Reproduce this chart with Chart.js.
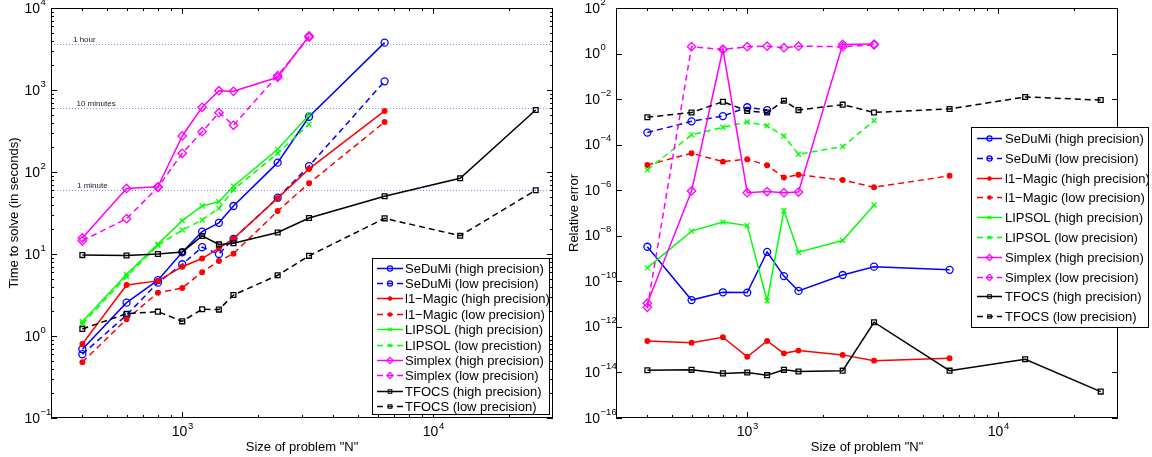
<!DOCTYPE html>
<html lang="en">
<head>
<meta charset="UTF-8">
<title>Solver time and relative error</title>
<script src="https://cdn.jsdelivr.net/npm/chart.js"></script>
<style>
  body { margin: 0; background: #fff; }
  .wrap { position: relative; width: 1152px; height: 457px; }
  #timeChart { position: absolute; left: 0; top: 0; }
  #errorChart { position: absolute; left: 560px; top: 0; }
</style>
</head>
<body>
<div class="wrap">
  <canvas id="timeChart" width="560" height="457"></canvas>
  <canvas id="errorChart" width="592" height="457"></canvas>
</div>
<script>
// ---------------- data ----------------
const sizesN = [400, 600, 800, 1000, 1200, 1400, 1600, 2400, 3200, 6400, 12800, 25600];

// time to solve (seconds)
const sedumiHighTime  = [0.69, 2.55, 4.8, 10.5, 18.7, 24, 38.5, 130, 472, 3780, null, null];
const sedumiLowTime   = [0.60, 1.8, 4.47, 7.5, 12.1, 10, 15.3, 48.6, 118, 1276, null, null];
const magicHighTime   = [0.80, 4.19, 4.7, 7.0, 8.8, 11.8, 15.4, 48, 109, 555, null, null];
const magicLowTime    = [0.48, 1.6, 3.37, 3.85, 6.0, 8.2, 10.1, 33.4, 72.8, 407, null, null];
const lipsolHighTime  = [1.49, 5.65, 13.2, 25.5, 38.5, 43.5, 67, 189, 495, null, null, null];
const lipsolLowTime   = [1.4, 5.3, 12.8, 19.6, 26, 36, 61, 169, 382, null, null, null];
const simplexHighTime = [15.7, 63, 66, 275, 615, 980, 965, 1430, 4560, null, null, null];
const simplexLowTime  = [14.5, 27, 65, 169, 310, 529, 371, 1500, 4400, null, null, null];
const tfocsHighTime   = [9.7, 9.6, 10, 10.6, 16.6, 13.1, 13.5, 18.3, 27.5, 50.6, 83.8, 570];
const tfocsLowTime    = [1.22, 1.87, 1.98, 1.51, 2.12, 2.1, 3.16, 5.5, 9.5, 27.2, 16.7, 60];

// relative error
const sedumiHighErr  = [3.3e-9, 1.5e-11, 3.3e-11, 3.2e-11, 1.95e-9, 1.7e-10, 3.8e-11, 1.9e-10, 4.4e-10, 3.2e-10, null, null];
const sedumiLowErr   = [3.4e-4, 1.06e-3, 1.8e-3, 4.4e-3, 3.3e-3, null, null, null, null, null, null, null];
const magicHighErr   = [2.4e-13, 2.0e-13, 3.5e-13, 4.9e-14, 2.4e-13, 6.9e-14, 9.1e-14, 5.9e-14, 3.3e-14, 4.2e-14, null, null];
const magicLowErr    = [1.28e-5, 4.2e-5, 1.8e-5, 2.3e-5, 1.24e-5, 3.6e-6, 4.8e-6, 2.8e-6, 1.35e-6, 4.3e-6, null, null];
const lipsolHighErr  = [3.9e-10, 1.6e-8, 4.0e-8, 2.8e-8, 1.4e-11, 1.26e-7, 1.9e-9, 6.2e-9, 2.25e-7, null, null, null];
const lipsolLowErr   = [7.8e-6, 2.7e-4, 5.8e-4, 9.9e-4, 6.8e-4, 2.4e-4, 3.8e-5, 8.2e-5, 1.13e-3, null, null, null];
const simplexHighErr = [1.1e-11, 9.3e-7, 1.54, 7.8e-7, 8.7e-7, 7.8e-7, 8.3e-7, 2.5, 2.6, null, null, null];
const simplexLowErr  = [7.2e-12, 2.0, 1.5, 2.0, 2.1, 1.8, 2.1, 2.0, 2.4, null, null, null];
const tfocsHighErr   = [1.24e-14, 1.3e-14, 9.1e-15, 9.9e-15, 7.6e-15, 1.3e-14, 1.1e-14, 1.2e-14, 1.6e-12, 1.2e-14, 3.8e-14, 1.44e-15];
const tfocsLowErr    = [1.6e-3, 2.6e-3, 7.7e-3, 3.0e-3, 2.6e-3, 8.5e-3, 3.3e-3, 5.7e-3, 2.6e-3, 3.7e-3, 1.24e-2, 9.1e-3];

const timeLabels = ['SeDuMi (high precision)', 'SeDuMi (low precision)', 'l1\u2212Magic (high precision)', 'l1\u2212Magic (low precision)',
  'LIPSOL (high precision)', 'LIPSOL (low precistion)', 'Simplex (high precision)', 'Simplex (low precision)',
  'TFOCS (high precision)', 'TFOCS (low precision)'];
const errorLabels = ['SeDuMi (high precision)', 'SeDuMi (low precision)', 'l1\u2212Magic (high precision)', 'l1\u2212Magic (low precision)',
  'LIPSOL (high precision)', 'LIPSOL (low precision)', 'Simplex (high precision)', 'Simplex (low precision)',
  'TFOCS (high precision)', 'TFOCS (low precision)'];

const refLineSeconds = [3600, 600, 60];
const refLineLabels = ['1 hour', '10 minutes', '1 minute'];

// ---------------- styles ----------------
const FONT = '"Liberation Sans", Arial, Helvetica, sans-serif';
const solverStyles = [
  { color: '#0000ff', dashed: false, marker: 'circle', radius: 3.5, filled: false },
  { color: '#0000ff', dashed: true,  marker: 'circle', radius: 3.5, filled: false },
  { color: '#ff0000', dashed: false, marker: 'circle', radius: 2.3, filled: true },
  { color: '#ff0000', dashed: true,  marker: 'circle', radius: 2.3, filled: true },
  { color: '#00ff00', dashed: false, marker: 'crossRot', radius: 3.5, filled: false },
  { color: '#00ff00', dashed: true,  marker: 'crossRot', radius: 3.5, filled: false },
  { color: '#ff00ff', dashed: false, marker: 'rectRot', radius: 4.2, filled: false },
  { color: '#ff00ff', dashed: true,  marker: 'rectRot', radius: 4.2, filled: false },
  { color: '#000000', dashed: false, marker: 'rect', radius: 3.4, filled: false },
  { color: '#000000', dashed: true,  marker: 'rect', radius: 3.4, filled: false }
];
const DASH = [6, 4];

function makeDatasets(seriesList, labels) {
  return seriesList.map((vals, i) => {
    const st = solverStyles[i];
    return {
      label: labels[i],
      data: sizesN.map((n, k) => ({ x: n, y: vals[k] })).filter(p => p.y != null),
      borderColor: st.color,
      backgroundColor: st.color,
      pointBackgroundColor: st.filled ? st.color : 'rgba(0,0,0,0)',
      pointBorderColor: st.color,
      pointStyle: st.marker,
      pointRadius: st.radius,
      pointBorderWidth: 1.3,
      borderWidth: 1.5,
      borderDash: st.dashed ? DASH : [],
      tension: 0,
      fill: false,
      order: -i
    };
  });
}

// log ticks: majors every `step` decades, minors 2..9 if wanted
function logTicks(min, max, step, withMinor) {
  const major = [], minor = [];
  const e0 = Math.floor(Math.log10(min)), e1 = Math.ceil(Math.log10(max));
  for (let e = e0; e <= e1; e++) {
    const v = Math.pow(10, e);
    if (v >= min * 0.999 && v <= max * 1.001 && (e - e0) % step === 0) major.push(e);
    if (withMinor) {
      for (let m = 2; m <= 9; m++) {
        const mv = m * v;
        if (mv > min * 1.001 && mv < max * 0.999) minor.push(mv);
      }
    }
  }
  return { major, minor };
}

function expText(e) {
  return (e < 0 ? '\u2212' : '') + Math.abs(e);
}

const TICK_PX = 14, EXP_PX = 9.5;

const matlabAxes = {
  id: 'matlabAxes',
  beforeDatasetsDraw(chart, args, o) {
    if (!o.refLines) return;
    const { ctx, chartArea: a } = chart;
    const y = chart.scales.y;
    ctx.save();
    ctx.strokeStyle = '#8c8cff';
    ctx.lineWidth = 1;
    ctx.setLineDash([1, 2]);
    ctx.font = '8px ' + FONT;
    ctx.fillStyle = '#222';
    o.refLines.forEach((v, i) => {
      const py = Math.round(y.getPixelForValue(v)) + 0.5;
      ctx.beginPath();
      ctx.moveTo(a.left, py);
      ctx.lineTo(a.right, py);
      ctx.stroke();
      ctx.fillText(o.refTexts[i], a.left + o.refDx[i], py - 3);
    });
    ctx.restore();
  },
  afterDraw(chart, args, o) {
    const { ctx, chartArea: a } = chart;
    const xs = chart.scales.x, ys = chart.scales.y;
    ctx.save();
    ctx.setLineDash([]);
    ctx.strokeStyle = '#000';
    ctx.fillStyle = '#000';
    ctx.lineWidth = 1;
    // box
    ctx.strokeRect(a.left + 0.5, a.top + 0.5, a.right - a.left - 1, a.bottom - a.top - 1);

    const xt = logTicks(xs.min, xs.max, 1, true);
    const yt = logTicks(ys.min, ys.max, o.yStep, o.yMinor);
    const MAJ = 6, MIN = 3;
    ctx.beginPath();
    const vTick = (px, len) => {
      px = Math.round(px) + 0.5;
      ctx.moveTo(px, a.bottom); ctx.lineTo(px, a.bottom - len);
      ctx.moveTo(px, a.top); ctx.lineTo(px, a.top + len);
    };
    const hTick = (py, len) => {
      py = Math.round(py) + 0.5;
      ctx.moveTo(a.left, py); ctx.lineTo(a.left + len, py);
      ctx.moveTo(a.right, py); ctx.lineTo(a.right - len, py);
    };
    xt.major.forEach(e => vTick(xs.getPixelForValue(Math.pow(10, e)), MAJ));
    xt.minor.forEach(v => vTick(xs.getPixelForValue(v), MIN));
    yt.major.forEach(e => hTick(ys.getPixelForValue(Math.pow(10, e)), MAJ));
    yt.minor.forEach(v => hTick(ys.getPixelForValue(v), MIN));
    ctx.stroke();

    // tick labels
    ctx.textBaseline = 'alphabetic';
    ctx.textAlign = 'left';
    xt.major.forEach(e => {
      const px = xs.getPixelForValue(Math.pow(10, e));
      ctx.font = TICK_PX + 'px ' + FONT;
      const w1 = ctx.measureText('10').width;
      ctx.font = EXP_PX + 'px ' + FONT;
      const w2 = ctx.measureText(expText(e)).width;
      const x0 = px - (w1 + w2) / 2;
      ctx.font = TICK_PX + 'px ' + FONT;
      ctx.fillText('10', x0, a.bottom + 18);
      ctx.font = EXP_PX + 'px ' + FONT;
      ctx.fillText(expText(e), x0 + w1 + 0.5, a.bottom + 10.5);
    });
    yt.major.forEach(e => {
      const py = ys.getPixelForValue(Math.pow(10, e));
      const x0 = a.left - o.yLabelDx;
      ctx.font = TICK_PX + 'px ' + FONT;
      const w1 = ctx.measureText('10').width;
      ctx.fillText('10', x0, py + 4.5);
      ctx.font = EXP_PX + 'px ' + FONT;
      ctx.fillText(expText(e), x0 + w1 + 0.5, py - 3.5);
    });

    // axis titles
    ctx.font = '13px ' + FONT;
    ctx.textAlign = 'center';
    ctx.fillText(o.xTitle, (a.left + a.right) / 2, a.bottom + 33);
    ctx.save();
    ctx.translate(o.yTitleX, (a.top + a.bottom) / 2);
    ctx.rotate(-Math.PI / 2);
    ctx.fillText(o.yTitle, 0, 0);
    ctx.restore();

    // legend
    const L = o.legend;
    ctx.fillStyle = '#fff';
    ctx.fillRect(L.left, L.top, L.width, L.height);
    ctx.strokeStyle = '#000';
    ctx.strokeRect(L.left + 0.5, L.top + 0.5, L.width, L.height);
    ctx.textAlign = 'left';
    ctx.font = '13px ' + FONT;
    chart.data.datasets.forEach((ds, i) => {
      const st = solverStyles[i];
      const ry = Math.round(L.rowStart + i * L.rowGap) + 0.5;
      ctx.strokeStyle = st.color;
      ctx.lineWidth = 1.5;
      ctx.setLineDash(st.dashed ? DASH : []);
      ctx.beginPath();
      ctx.moveTo(L.sampleX0, ry);
      ctx.lineTo(L.sampleX1, ry);
      ctx.stroke();
      ctx.setLineDash([]);
      ctx.lineWidth = 1.1;
      ctx.fillStyle = st.filled ? st.color : 'rgba(0,0,0,0)';
      Chart.helpers.drawPoint(ctx, { pointStyle: st.marker, radius: st.radius * 0.75, borderWidth: 1.1, rotation: 0 },
        (L.sampleX0 + L.sampleX1) / 2, ry);
      ctx.fillStyle = '#000';
      ctx.fillText(ds.label, L.textX, ry + 4.5);
    });
    ctx.restore();
  }
};

// ---------------- charts ----------------
new Chart(document.getElementById('timeChart'), {
  type: 'line',
  data: {
    datasets: makeDatasets([sedumiHighTime, sedumiLowTime, magicHighTime, magicLowTime, lipsolHighTime,
      lipsolLowTime, simplexHighTime, simplexLowTime, tfocsHighTime, tfocsLowTime], timeLabels)
  },
  options: {
    responsive: false,
    animation: false,
    layout: { padding: { left: 51, right: 7, top: 8, bottom: 39 } },
    scales: {
      x: { type: 'logarithmic', min: 300, max: 30000, display: false },
      y: { type: 'logarithmic', min: 0.1, max: 10000, display: false }
    },
    plugins: {
      legend: { display: false },
      tooltip: { enabled: false },
      matlabAxes: {
        yStep: 1, yMinor: true, yLabelDx: 26.5,
        xTitle: 'Size of problem "N"', yTitle: 'Time to solve (in seconds)', yTitleX: 18,
        refLines: refLineSeconds, refTexts: refLineLabels, refDx: [22, 25.5, 26],
        legend: { left: 372, top: 258, width: 177, height: 156, rowStart: 267.7, rowGap: 15.37,
          sampleX0: 377, sampleX1: 403, textX: 405 }
      }
    }
  },
  plugins: [matlabAxes]
});

new Chart(document.getElementById('errorChart'), {
  type: 'line',
  data: {
    datasets: makeDatasets([sedumiHighErr, sedumiLowErr, magicHighErr, magicLowErr, lipsolHighErr,
      lipsolLowErr, simplexHighErr, simplexLowErr, tfocsHighErr, tfocsLowErr], errorLabels)
  },
  options: {
    responsive: false,
    animation: false,
    layout: { padding: { left: 56, right: 34, top: 8, bottom: 39 } },
    scales: {
      x: { type: 'logarithmic', min: 300, max: 30000, display: false },
      y: { type: 'logarithmic', min: 1e-16, max: 100, display: false }
    },
    plugins: {
      legend: { display: false },
      tooltip: { enabled: false },
      matlabAxes: {
        yStep: 2, yMinor: false, yLabelDx: 31.5,
        xTitle: 'Size of problem "N"', yTitle: 'Relative error', yTitleX: 17.5,
        legend: { left: 411, top: 127, width: 177, height: 200, rowStart: 138, rowGap: 19.8,
          sampleX0: 417, sampleX1: 442, textX: 445 }
      }
    }
  },
  plugins: [matlabAxes]
});
</script>
</body>
</html>
